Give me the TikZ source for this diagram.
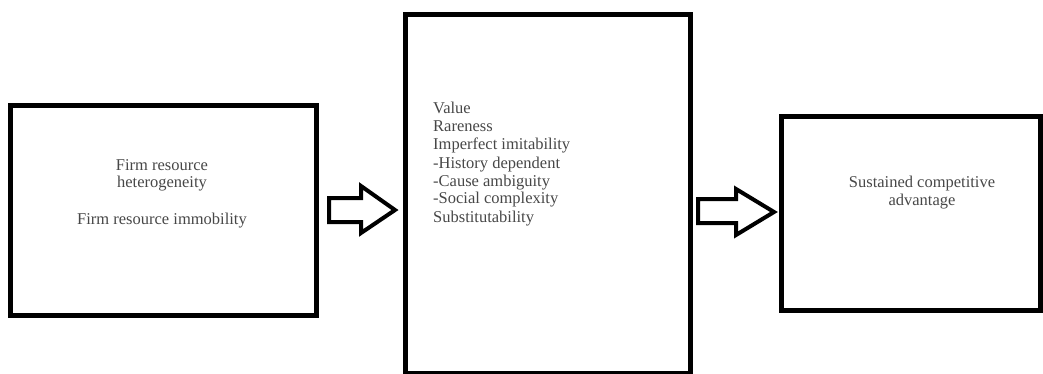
\documentclass[tikz,border=0pt]{standalone}
\usepackage{fontspec}
\setmainfont{Liberation Serif}
\begin{document}
\begin{tikzpicture}[x=1pt,y=-1pt,
  box/.style={draw=black,line width=5pt},
  arr/.style={draw=black,line width=4pt,line join=miter,fill=white},
  txt/.style={text=black!72,font=\fontsize{16.5}{18}\selectfont,inner sep=0pt}]
\useasboundingbox (0,0) rectangle (1043,374);
\begin{scope}
\clip (0,0) rectangle (1043,374);
% boxes
\draw[box] (10,106) rectangle (316,315);
\draw[box] (405,15) rectangle (690,373);
\draw[box] (781,117) rectangle (1040,310);
% block arrows
\draw[arr] (329,198) -- (361,198) -- (361,186) -- (395,210) -- (361,233) -- (361,222) -- (329,222) -- cycle;
\draw[arr] (698,199) -- (736,199) -- (736,189) -- (774,212) -- (736,235) -- (736,223) -- (698,223) -- cycle;
\end{scope}
% texts
\node[txt,align=center,anchor=base] (t1) at (162,224) {Firm resource\\heterogeneity\\[18pt]Firm resource immobility};
\node[txt,align=left,anchor=base west] (t2) at (433,222) {Value\\Rareness\\Imperfect imitability\\-History dependent\\-Cause ambiguity\\-Social complexity\\Substitutability};
\node[txt,align=center,anchor=base] (t3) at (922,205) {Sustained competitive\\advantage};
\end{tikzpicture}
\end{document}
